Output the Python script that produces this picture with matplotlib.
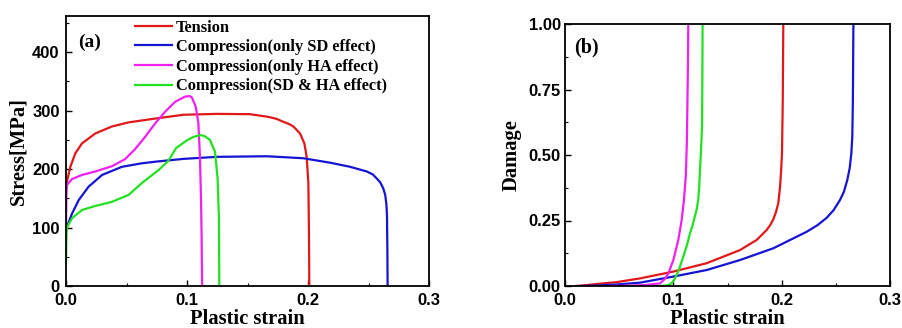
import matplotlib
matplotlib.use("Agg")
import matplotlib.pyplot as plt
from matplotlib.ticker import MultipleLocator, FormatStrFormatter

# ---- data (a): stress-strain ----
ten_x = [0.0, 0.0008, 0.0036, 0.0077, 0.0132, 0.0242, 0.038, 0.0518, 0.072, 0.097, 0.1245, 0.152, 0.167, 0.174, 0.1796, 0.1845, 0.1879, 0.1934, 0.197, 0.1989, 0.2003, 0.2008, 0.2011]
ten_y = [174, 179, 204, 227, 244, 261, 273, 280, 286, 293, 294.5, 294, 289.5, 286, 281, 277, 273, 261, 244, 221, 176, 91, 0]

sd_x = [0.0, 0.0008, 0.005, 0.0105, 0.0187, 0.0298, 0.0463, 0.0628, 0.0752, 0.097, 0.1245, 0.166, 0.1961, 0.2182, 0.2347, 0.2485, 0.2535, 0.2568, 0.2598, 0.2622, 0.2638, 0.2648, 0.2653, 0.2656, 0.2658]
sd_y = [97, 101.5, 124, 147, 170, 190, 204, 210, 213, 217.5, 221, 222, 218.6, 211, 204, 196, 191, 184, 177, 167, 156, 140, 119, 62, 0]

ha_x = [0.0, 0.0004, 0.0008, 0.005, 0.0132, 0.0242, 0.038, 0.0488, 0.057, 0.0653, 0.0736, 0.0818, 0.0901, 0.0983, 0.1019, 0.1039, 0.1072, 0.1094, 0.1107, 0.1116, 0.1121, 0.1125]
ha_y = [100, 160, 173, 183, 190, 196, 205, 217, 234, 255, 278, 298, 315, 324, 325, 323, 307, 279, 221, 147, 80, 0]

both_x = [0.0, 0.0004, 0.0008, 0.005, 0.0132, 0.0242, 0.038, 0.0518, 0.0626, 0.0763, 0.0845, 0.091, 0.0997, 0.1052, 0.1107, 0.1121, 0.1149, 0.119, 0.1231, 0.1253, 0.1264, 0.1267]
both_y = [40, 85, 100, 116, 130, 137, 144, 156, 176, 198, 214, 236, 249, 255, 258, 258, 256, 250, 230, 184, 116, 0]

# ---- data (b): damage-strain ----
d_ten_x = [0.01, 0.0176, 0.03, 0.048, 0.0692, 0.1, 0.1308, 0.1615, 0.177, 0.1862, 0.1895, 0.1923, 0.1948, 0.1969, 0.1985, 0.1995, 0.2003, 0.201, 0.2015]
d_ten_y = [0.0, 0.0025, 0.008, 0.015, 0.029, 0.055, 0.087, 0.137, 0.176, 0.214, 0.233, 0.255, 0.283, 0.316, 0.379, 0.44, 0.506, 0.70, 1.0]

d_sd_x = [0.015, 0.03, 0.048, 0.0692, 0.1, 0.1308, 0.1615, 0.1923, 0.2231, 0.233, 0.2415, 0.248, 0.2538, 0.2575, 0.2606, 0.2628, 0.2643, 0.2652, 0.2657, 0.2659, 0.2662]
d_sd_y = [0.0, 0.002, 0.006, 0.0127, 0.036, 0.061, 0.099, 0.144, 0.207, 0.232, 0.26, 0.29, 0.328, 0.36, 0.405, 0.45, 0.506, 0.57, 0.70, 0.80, 1.0]

d_ha_x = [0.04, 0.06, 0.075, 0.0877, 0.092, 0.0954, 0.1, 0.1046, 0.1077, 0.1098, 0.1115, 0.1125, 0.113, 0.1135, 0.1138]
d_ha_y = [0.0, 0.001, 0.004, 0.010, 0.026, 0.048, 0.099, 0.176, 0.252, 0.328, 0.42, 0.55, 0.70, 0.85, 1.0]

d_both_x = [0.085, 0.092, 0.0955, 0.0985, 0.1012, 0.1031, 0.1062, 0.1092, 0.1125, 0.1154, 0.118, 0.12, 0.1217, 0.123, 0.1239, 0.1246, 0.1256, 0.1265, 0.1268, 0.127]
d_both_y = [0.0, 0.001, 0.004, 0.011, 0.026, 0.042, 0.075, 0.112, 0.155, 0.201, 0.235, 0.268, 0.295, 0.33, 0.38, 0.443, 0.52, 0.608, 0.80, 1.0]

labels = ["Tension", "Compression(only SD effect)", "Compression(only HA effect)", "Compression(SD & HA effect)"]
colors = ["#e01818", "#1414d2", "#f020f0", "#22e022"]

serif = ["Liberation Serif", "DejaVu Serif"]
sans = ["Liberation Sans", "DejaVu Sans"]

fig = plt.figure(figsize=(9.02, 3.28), dpi=100)
axA = fig.add_axes([66 / 902, 42 / 328, 363 / 902, 270 / 328])
axB = fig.add_axes([565 / 902, 42 / 328, 325 / 902, 262 / 328])

lw = 1.6
for xs, ys, c, lab in zip([ten_x, sd_x, ha_x, both_x], [ten_y, sd_y, ha_y, both_y], colors, labels):
    axA.plot(xs, ys, color=c, lw=lw, label=lab, solid_joinstyle="round")
for xs, ys, c in zip([d_ten_x, d_sd_x, d_ha_x, d_both_x], [d_ten_y, d_sd_y, d_ha_y, d_both_y], colors):
    axB.plot(xs, ys, color=c, lw=lw, solid_joinstyle="round")

lab_fs = 14.8
axA.set_xlim(0, 0.3)
axA.set_ylim(0, 462)
axA.xaxis.set_major_locator(MultipleLocator(0.1))
axA.xaxis.set_minor_locator(MultipleLocator(0.05))
axA.yaxis.set_major_locator(MultipleLocator(100))
axA.yaxis.set_minor_locator(MultipleLocator(50))
axA.xaxis.set_major_formatter(FormatStrFormatter("%.1f"))
axA.set_xlabel("Plastic strain", family=serif, fontweight="bold", fontsize=lab_fs, labelpad=1)
axA.set_ylabel("Stress[MPa]", family=serif, fontweight="bold", fontsize=lab_fs, labelpad=3)
axA.text(0.033, 0.902, "(a)", transform=axA.transAxes, family=serif, fontweight="bold",
         fontsize=14, va="center", ha="left")

axB.set_xlim(0, 0.3)
axB.set_ylim(0, 1.0)
axB.xaxis.set_major_locator(MultipleLocator(0.1))
axB.xaxis.set_minor_locator(MultipleLocator(0.05))
axB.yaxis.set_major_locator(MultipleLocator(0.25))
axB.yaxis.set_minor_locator(MultipleLocator(0.125))
axB.xaxis.set_major_formatter(FormatStrFormatter("%.1f"))
axB.yaxis.set_major_formatter(FormatStrFormatter("%.2f"))
axB.set_xlabel("Plastic strain", family=serif, fontweight="bold", fontsize=lab_fs, labelpad=1)
axB.set_ylabel("Damage", family=serif, fontweight="bold", fontsize=lab_fs, labelpad=5)
axB.text(0.028, 0.91, "(b)", transform=axB.transAxes, family=serif, fontweight="bold",
         fontsize=14.5, va="center", ha="left")

for ax, ypad in ((axA, 4.5), (axB, 3.0)):
    ax.tick_params(which="both", direction="in", top=False, right=False)
    ax.tick_params(which="major", length=4, width=1.0)
    ax.tick_params(which="minor", length=2.5, width=0.8)
    ax.tick_params(axis="x", which="major", pad=5)
    ax.tick_params(axis="y", which="major", pad=ypad)
    for sp in ax.spines.values():
        sp.set_linewidth(1.3)
    for t in ax.get_xticklabels() + ax.get_yticklabels():
        t.set_family(sans)
        t.set_fontweight("bold")
        t.set_fontsize(12)

leg = axA.legend(loc="upper left", bbox_to_anchor=(0.19, 0.987), frameon=False,
                 prop={"family": serif, "weight": "bold", "size": 11.8},
                 handlelength=2.25, handletextpad=0.25, labelspacing=0.22,
                 borderpad=0.0, borderaxespad=0.0)

fig.savefig("out.png", dpi=100)
